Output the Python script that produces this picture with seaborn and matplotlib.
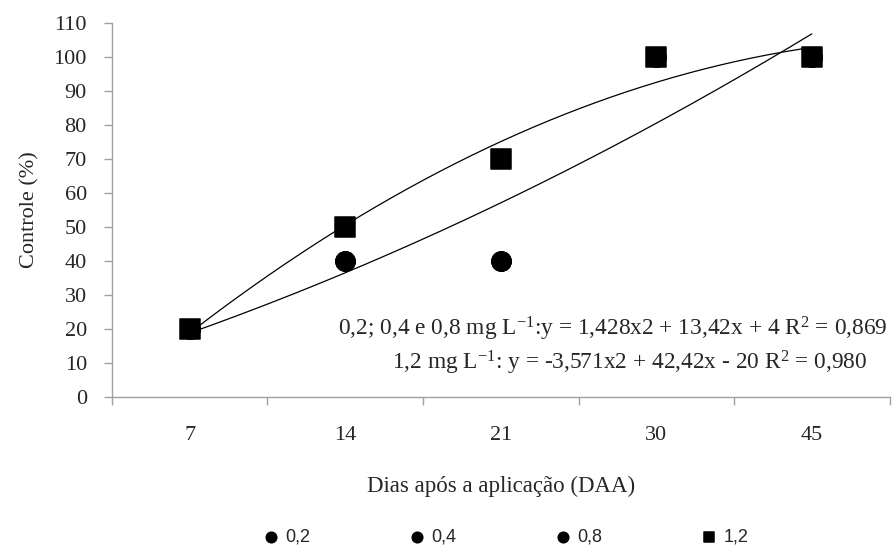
import numpy as np
import pandas as pd
import matplotlib
matplotlib.use("Agg")
import matplotlib.pyplot as plt
import seaborn as sns

# === Data
dias = ["7", "14", "21", "30", "45"]
doses_circ = ["0,2", "0,4", "0,8"]
controle_circ = [20, 40, 40, 100, 100]   # same for 0,2 / 0,4 / 0,8
controle_12 = [20, 50, 70, 100, 100]

# fitted equations given on the chart (x = 1..5)
coef_a = [1.428, 13.42, 4]
coef_b = [-3.571, 42.42, -20]

sns.set_theme(style="white")
plt.rcParams["font.family"] = ["Liberation Serif", "DejaVu Serif"]
plt.rcParams["mathtext.fontset"] = "custom"
plt.rcParams["mathtext.rm"] = "Liberation Serif"
plt.rcParams["mathtext.it"] = "Liberation Serif:italic"

rows = []
for d in doses_circ:
    for i, v in enumerate(controle_circ):
        rows.append({"idx": i, "dose": d, "controle": v})
for i, v in enumerate(controle_12):
    rows.append({"idx": i, "dose": "1,2", "controle": v})
df = pd.DataFrame(rows)

fig = plt.figure(figsize=(8.95, 5.47), dpi=100)
ax = fig.add_axes([0.125, 0.274, 0.869, 0.684])

# === Trend lines
xs = np.linspace(1, 5, 200)
curves = pd.DataFrame({
    "idx": np.concatenate([xs - 1, xs - 1]),
    "y": np.concatenate([np.polyval(coef_a, xs), np.polyval(coef_b, xs)]),
    "eq": ["a"] * len(xs) + ["b"] * len(xs),
})
sns.lineplot(data=curves, x="idx", y="y", units="eq", estimator=None,
             color="black", lw=0.9, ax=ax, legend=False)

# === Points
markers = {"0,2": "o", "0,4": "o", "0,8": "o", "1,2": "s"}
for d in ["0,2", "0,4", "0,8", "1,2"]:
    sub = df[df["dose"] == d]
    sns.scatterplot(data=sub, x="idx", y="controle", marker=markers[d],
                    s=190, color="black", edgecolor="black", ax=ax,
                    label=d, zorder=3)

ax.set_xlim(-0.5, 4.5)
ax.set_ylim(0, 110)
ax.set_yticks(range(0, 111, 10))
ax.set_xticks(range(len(dias)))
ax.set_xticklabels(dias)
ax.set_xticks(np.arange(-0.5, 4.6, 1), minor=True)
ax.tick_params(axis="x", which="major", bottom=False, length=0, pad=21, labelsize=16)
ax.tick_params(axis="x", which="minor", bottom=True, length=6, width=1,
               color="#a0a0a0", direction="out")
ax.tick_params(axis="y", left=True, length=6, width=1, color="#a0a0a0",
               direction="out", labelsize=16, pad=12)
for s in ["top", "right"]:
    ax.spines[s].set_visible(False)
for s in ["left", "bottom"]:
    ax.spines[s].set_color("#a0a0a0")
    ax.spines[s].set_linewidth(1.0)

ax.set_ylabel("Controle (%)", fontsize=16, labelpad=10)
ax.set_xlabel("Dias após a aplicação (DAA)", fontsize=16.5, labelpad=22)

ax.text(4.49, 20, "0,2; 0,4 e 0,8 mg L$^{-1}$:y = 1,428x2 + 13,42x + 4 R$^{2}$ = 0,869",
        ha="right", va="center", fontsize=16.8)
ax.text(4.36, 10, "1,2 mg L$^{-1}$: y = -3,571x2 + 42,42x - 20 R$^{2}$ = 0,980",
        ha="right", va="center", fontsize=16.8)

handles, labels = ax.get_legend_handles_labels()
ax.legend(handles, labels, loc="center", bbox_to_anchor=(0.5, -0.375), ncol=4,
          frameon=False, prop={"family": "Liberation Sans", "size": 13},
          markerscale=0.55, handletextpad=-0.2, columnspacing=4.9)

fig.savefig("out.png", dpi=100)
